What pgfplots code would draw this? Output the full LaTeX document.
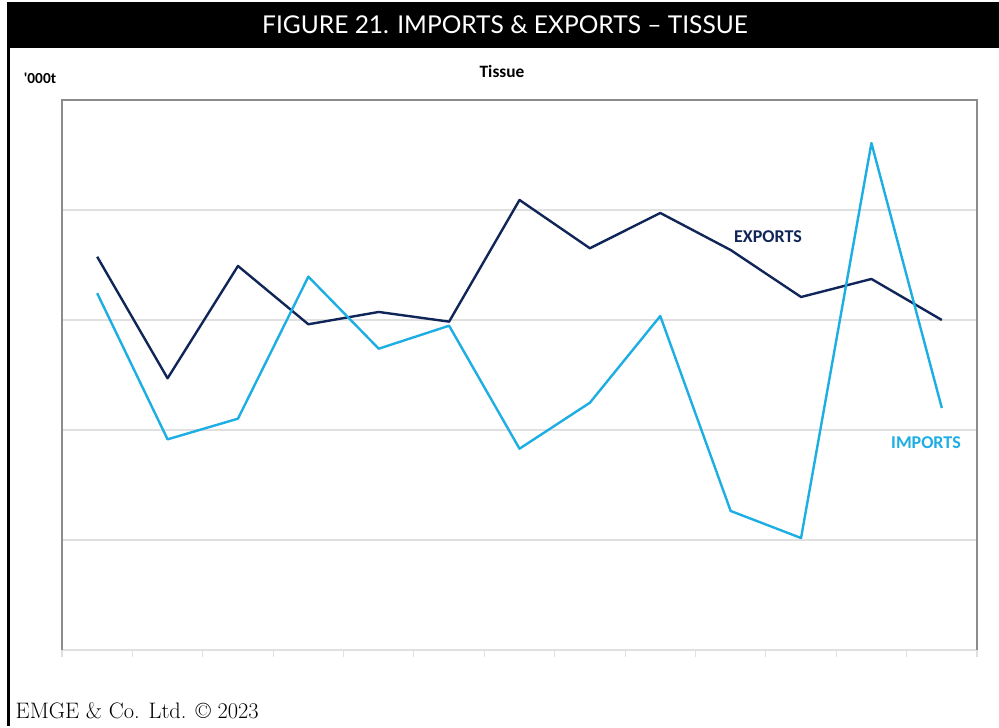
\documentclass[border=0pt]{standalone}
\usepackage{fontspec}
\usepackage{pgfplots}
\pgfplotsset{compat=1.18}
\newfontfamily\carlito{Carlito}
\newfontfamily\lato{Lato}
\definecolor{expnavy}{RGB}{16,38,88}
\definecolor{impblue}{RGB}{29,174,227}
\definecolor{gridgray}{RGB}{224,224,224}
\definecolor{boxgray}{RGB}{140,140,140}

\begin{document}
\begin{tikzpicture}[x=0.75pt,y=0.75pt]
% canvas 999 x 726 px, y measured up from the bottom
\path[fill=white] (0,0) rectangle (999,726);
\fill[black] (7,678) rectangle (999,724);
\draw[black,line width=2pt] (8.3,0) -- (8.3,679);
\node[white,font=\lato\fontsize{18.4}{22}\selectfont] at (505,701)
  {FIGURE 21. IMPORTS \& EXPORTS – TISSUE};
\node[font=\carlito\bfseries\fontsize{13}{15}\selectfont] at (502,655) {Tissue};
\node[font=\carlito\bfseries\fontsize{11.5}{14}\selectfont] at (40,648) {\textquotesingle000t};
\node[anchor=base west,font=\fontsize{16.8}{19}\selectfont] at (11,7)
  {EMGE \& Co. Ltd. © 2023};

\begin{axis}[at={(46.5pt,57pt)},anchor=south west,scale only axis,
  width=686.25pt,height=412.5pt,
  xmin=-0.5,xmax=12.5,ymin=0,ymax=5,
  axis line style={draw=none},
  ytick={1,2,3,4},yticklabels={},ytick style={draw=none},
  ymajorgrids,grid style={gridgray,line width=1.1pt},
  xtick={-0.5,0.5,...,12.5},xticklabels={},xtick pos=bottom,
  x tick style={gridgray,line width=0.8pt},
  major tick length=5.25pt,tick align=outside,
  clip=false]
\draw[gridgray,line width=1.1pt] (rel axis cs:0,0) -- (rel axis cs:1,0);
\draw[boxgray,line width=0.9pt] (rel axis cs:0,0) -- (rel axis cs:0,1)
  -- (rel axis cs:1,1) -- (rel axis cs:1,0);
% exports
\addplot[expnavy,line width=1.8pt,line join=round,mark=none] coordinates {
  (0,3.575) (1,2.470) (2,3.491) (3,2.961) (4,3.073) (5,2.985) (6,4.091)
  (7,3.652) (8,3.973) (9,3.636) (10,3.209) (11,3.373) (12,3.000)};
% imports
\addplot[impblue,line width=1.8pt,line join=round,mark=none] coordinates {
  (0,3.243) (1,1.915) (2,2.103) (3,3.394) (4,2.739) (5,2.948) (6,1.830)
  (7,2.248) (8,3.036) (9,1.264) (10,1.018) (11,4.609) (12,2.200)};
\node[expnavy,font=\carlito\bfseries\fontsize{13.5}{16}\selectfont] at (axis cs:9.53,3.755) {EXPORTS};
\node[impblue,font=\carlito\bfseries\fontsize{13.5}{16}\selectfont] at (axis cs:11.775,1.882) {IMPORTS};
\end{axis}
\end{tikzpicture}
\end{document}
